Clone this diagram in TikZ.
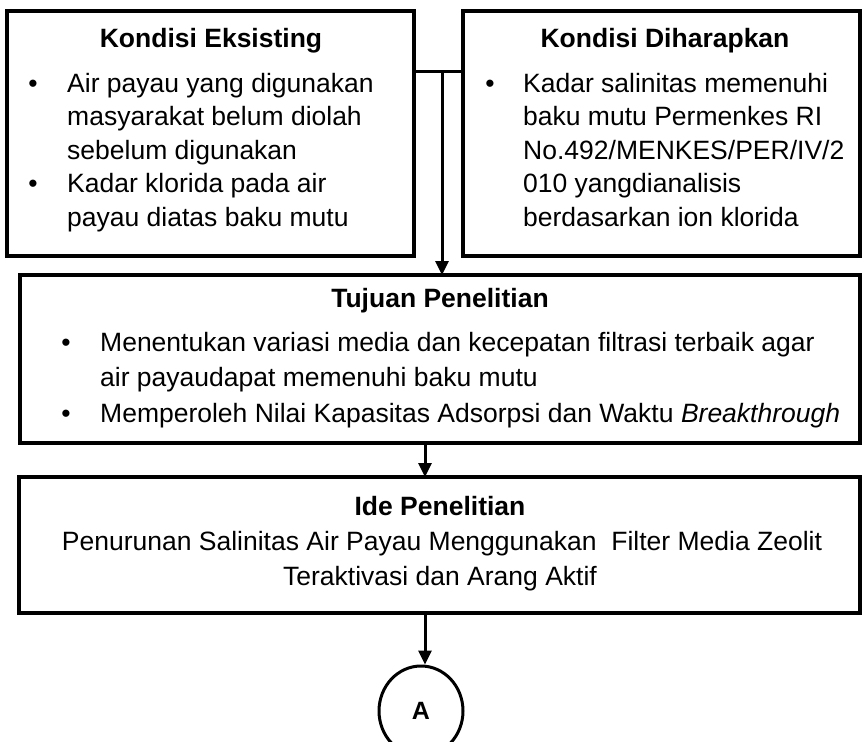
\documentclass[tikz,border=0pt]{standalone}
\usepackage{fontspec}
\setmainfont{Liberation Sans}
\usetikzlibrary{arrows.meta,shapes.geometric}
\begin{document}
\begin{tikzpicture}[x=1pt,y=-1pt,
  box/.style={draw, line width=3.5pt, rectangle, inner sep=0pt, outer sep=0pt},
  txt/.style={inner sep=0pt, anchor=base west, font=\fontsize{26.5}{32}\selectfont},
  ttl/.style={inner sep=0pt, anchor=base, font=\fontsize{26.5}{32}\selectfont\bfseries},
  ctr/.style={inner sep=0pt, anchor=base, font=\fontsize{26.5}{32}\selectfont},
  bul/.style={inner sep=0pt, anchor=base, font=\fontsize{26.5}{32}\selectfont},
  conn/.style={line width=3pt},
  arr/.style={line width=3pt, -{Triangle[width=13pt,length=14pt]}}
]
\useasboundingbox (0,0) rectangle (863,742);

% boxes
\node[box, minimum width=407pt, minimum height=245pt] (eks) at (210.5,133.5) {};
\node[box, minimum width=397pt, minimum height=245pt] (har) at (661.5,133.5) {};
\node[box, minimum width=840pt, minimum height=168pt] (tuj) at (440,359) {};
\node[box, minimum width=841pt, minimum height=136pt] (ide) at (439.5,545) {};
\node[draw, ellipse, line width=3pt, minimum width=84pt, minimum height=90pt, inner sep=0pt,
      font=\fontsize{25}{30}\selectfont\bfseries] (A) at (421,711) {A};

% Kondisi Eksisting
\node[ttl] (t1) at (211,47) {Kondisi Eksisting};
\node[bul] (b11) at (33,92) {•};
\node[txt] (l11) at (67,92) {Air payau yang digunakan};
\node[txt] (l12) at (67,125.5) {masyarakat belum diolah};
\node[txt] (l13) at (67,159) {sebelum digunakan};
\node[bul] (b12) at (33,192.5) {•};
\node[txt] (l14) at (67,192.5) {Kadar klorida pada air};
\node[txt] (l15) at (67,226) {payau diatas baku mutu};

% Kondisi Diharapkan
\node[ttl] (t2) at (665,47) {Kondisi Diharapkan};
\node[bul] (b21) at (490,92) {•};
\node[txt] (l21) at (523,92) {Kadar salinitas memenuhi};
\node[txt] (l22) at (523,125.5) {baku mutu Permenkes RI};
\node[txt] (l23) at (523,159) {No.492/MENKES/PER/IV/2};
\node[txt] (l24) at (523,192.5) {010 yangdianalisis};
\node[txt] (l25) at (523,226) {berdasarkan ion klorida};

% Tujuan Penelitian
\node[ttl] (t3) at (440,307) {Tujuan Penelitian};
\node[bul] (b31) at (66,351) {•};
\node[txt] (l31) at (100,351) {Menentukan variasi media dan kecepatan filtrasi terbaik agar};
\node[txt] (l32) at (100,386.5) {air payaudapat memenuhi baku mutu};
\node[bul] (b32) at (66,422) {•};
\node[txt] (l33) at (100,422) {Memperoleh Nilai Kapasitas Adsorpsi dan Waktu \textit{Breakthrough}};

% Ide Penelitian
\node[ttl] (t4) at (440,515) {Ide Penelitian};
\node[ctr] (l41) at (442,550) {Penurunan Salinitas Air Payau Menggunakan\ \ Filter Media Zeolit};
\node[ctr] (l42) at (440,585) {Teraktivasi dan Arang Aktif};

% connectors
\coordinate (j) at (442,71);
\coordinate (ax) at (425,0);
\draw[conn] (eks.east |- j) -- (har.west |- j);
\draw[arr] (j) -- (j |- tuj.north);
\draw[arr] (tuj.south -| ax) -- (ide.north -| ax);
\draw[arr] (ide.south -| ax) -- (A.north -| ax);
\end{tikzpicture}
\end{document}
